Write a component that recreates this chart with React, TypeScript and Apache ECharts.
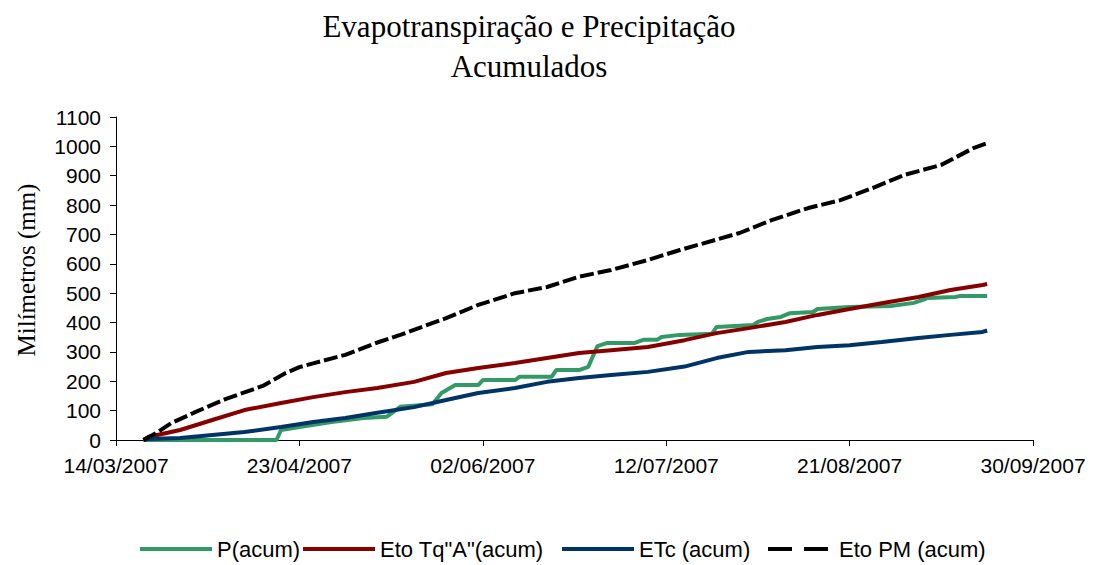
import React, { useEffect, useRef } from "react";
import * as echarts from "echarts";

const titleText = "Evapotranspiração e Precipitação\nAcumulados";
const yAxisTitle = "Milímetros (mm)";
const xTickDates = ["14/03/2007", "23/04/2007", "02/06/2007", "12/07/2007", "21/08/2007", "30/09/2007"];
const yTicks = [0, 100, 200, 300, 400, 500, 600, 700, 800, 900, 1000, 1100];

const seriesNames = ["P(acum)", 'Eto Tq"A"(acum)', "ETc (acum)", "Eto PM (acum)"];

const pDates = ["20/03/2007", "18/04/2007", "19/04/2007", "23/04/2007", "30/04/2007", "07/05/2007", "12/05/2007", "15/05/2007", "22/05/2007", "24/05/2007", "27/05/2007", "01/06/2007", "02/06/2007", "09/06/2007", "10/06/2007", "17/06/2007", "18/06/2007", "23/06/2007", "25/06/2007", "27/06/2007", "29/06/2007", "05/07/2007", "07/07/2007", "10/07/2007", "11/07/2007", "15/07/2007", "22/07/2007", "23/07/2007", "31/07/2007", "01/08/2007", "03/08/2007", "06/08/2007", "08/08/2007", "13/08/2007", "14/08/2007", "21/08/2007", "30/08/2007", "04/09/2007", "06/09/2007", "07/09/2007", "13/09/2007", "14/09/2007", "20/09/2007"];
const pValues = [0, 0, 34, 44, 61, 75, 79, 113, 122, 160, 187, 187, 204, 204, 215, 215, 238, 238, 249, 320, 330, 330, 341, 341, 351, 358, 362, 385, 392, 402, 412, 419, 432, 436, 446, 453, 456, 467, 477, 484, 487, 490, 490];

const tqDates = ["20/03/2007", "21/03/2007", "28/03/2007", "04/04/2007", "11/04/2007", "19/04/2007", "26/04/2007", "03/05/2007", "10/05/2007", "18/05/2007", "25/05/2007", "01/06/2007", "09/06/2007", "16/06/2007", "23/06/2007", "30/06/2007", "08/07/2007", "16/07/2007", "23/07/2007", "30/07/2007", "07/08/2007", "14/08/2007", "21/08/2007", "28/08/2007", "05/09/2007", "12/09/2007", "19/09/2007", "20/09/2007"];
const tqValues = [0, 10, 34, 68, 102, 126, 146, 163, 177, 198, 228, 245, 262, 279, 296, 306, 317, 340, 364, 381, 402, 426, 446, 466, 487, 511, 528, 531];

const etcDates = ["20/03/2007", "21/03/2007", "28/03/2007", "04/04/2007", "11/04/2007", "19/04/2007", "26/04/2007", "03/05/2007", "10/05/2007", "18/05/2007", "25/05/2007", "01/06/2007", "09/06/2007", "16/06/2007", "23/06/2007", "30/06/2007", "08/07/2007", "16/07/2007", "23/07/2007", "30/07/2007", "07/08/2007", "14/08/2007", "21/08/2007", "28/08/2007", "05/09/2007", "12/09/2007", "19/09/2007", "20/09/2007"];
const etcValues = [0, 3, 7, 17, 27, 44, 61, 75, 93, 112, 136, 160, 177, 198, 211, 221, 232, 250, 279, 300, 306, 317, 323, 334, 347, 358, 368, 373];

const pmDates = ["20/03/2007", "23/03/2007", "26/03/2007", "31/03/2007", "07/04/2007", "15/04/2007", "20/04/2007", "23/04/2007", "26/04/2007", "03/05/2007", "10/05/2007", "15/05/2007", "25/05/2007", "01/06/2007", "09/06/2007", "16/06/2007", "23/06/2007", "30/06/2007", "08/07/2007", "15/07/2007", "28/07/2007", "04/08/2007", "12/08/2007", "19/08/2007", "26/08/2007", "02/09/2007", "10/09/2007", "17/09/2007", "20/09/2007"];
const pmValues = [0, 26, 57, 93, 140, 184, 228, 248, 261, 290, 332, 358, 415, 460, 500, 521, 556, 579, 613, 647, 705, 749, 790, 817, 858, 903, 937, 994, 1011];

const DAY = 86400000;
const BASE = Date.UTC(2007, 2, 14);

function toDay(s: string): number {
  const [d, m, y] = s.split("/").map(Number);
  return Math.round((Date.UTC(y, m - 1, d) - BASE) / DAY);
}
function fmtDay(v: number): string {
  const dt = new Date(BASE + v * DAY);
  const dd = String(dt.getUTCDate()).padStart(2, "0");
  const mm = String(dt.getUTCMonth() + 1).padStart(2, "0");
  return `${dd}/${mm}/${dt.getUTCFullYear()}`;
}
function pairs(dates: string[], vals: number[]) {
  return dates.map((d, i) => [toDay(d), vals[i]]);
}

const solidIcon = "path://M0 0H72V4H0Z";
const dashIcon = "path://M0 0H24V4H0ZM36 0H60V4H36Z";
const legendLefts = [140, 303, 562, 768];

export default function App() {
  const ref = useRef<HTMLDivElement>(null);
  useEffect(() => {
    if (!ref.current) return;
    const chart = echarts.init(ref.current, undefined, { renderer: "svg" });
    const xMin = toDay(xTickDates[0]);
    const xMax = toDay(xTickDates[xTickDates.length - 1]);
    const xInterval = toDay(xTickDates[1]) - xMin;
    const sans = "Liberation Sans";
    const axisCommon = {
      axisLine: { show: true, lineStyle: { color: "#000", width: 1 } },
      axisTick: { show: true, length: 6, lineStyle: { color: "#000" } },
      splitLine: { show: false },
    };
    const lineSeries = (name: string, data: number[][], color: string, type: any = "solid") => ({
      name,
      type: "line",
      data,
      symbol: "none",
      showSymbol: false,
      lineStyle: { color, width: 4, type },
      itemStyle: { color },
      z: 2,
    });
    chart.setOption({
      animation: false,
      backgroundColor: "#fff",
      grid: { left: 116, top: 117, right: 61, bottom: 125, containLabel: false },
      graphic: [
        {
          type: "text",
          x: 529,
          y: 46,
          style: {
            text: titleText,
            fontFamily: "Liberation Serif",
            fontSize: 31,
            lineHeight: 40,
            fill: "#000",
            align: "center",
            verticalAlign: "middle",
          },
        },
        {
          type: "text",
          x: 26,
          y: 270,
          rotation: Math.PI / 2,
          style: {
            text: yAxisTitle,
            fontFamily: "Liberation Serif",
            fontSize: 25,
            fill: "#000",
            align: "center",
            verticalAlign: "middle",
          },
        },
      ],
      xAxis: {
        type: "value",
        min: xMin,
        max: xMax,
        interval: xInterval,
        ...axisCommon,
        axisLabel: {
          formatter: (v: number) => fmtDay(v),
          fontFamily: sans,
          fontSize: 21,
          color: "#000",
          margin: 15,
          showMaxLabel: true,
          showMinLabel: true,
        },
      },
      yAxis: {
        type: "value",
        min: yTicks[0],
        max: yTicks[yTicks.length - 1],
        interval: yTicks[1] - yTicks[0],
        ...axisCommon,
        axisLabel: {
          formatter: (v: number) => String(v),
          fontFamily: sans,
          fontSize: 21,
          color: "#000",
          margin: 15,
        },
      },
      legend: seriesNames.map((n, i) => ({
        data: [{ name: n, icon: i === 3 ? dashIcon : solidIcon }],
        left: legendLefts[i],
        top: 538,
        itemWidth: 72,
        itemHeight: 4,
        padding: 0,
        selectedMode: false,
        textStyle: { fontFamily: sans, fontSize: 22, color: "#000" },
      })),
      series: [
        lineSeries(seriesNames[0], pairs(pDates, pValues), "#339966"),
        lineSeries(seriesNames[1], pairs(tqDates, tqValues), "#870000"),
        lineSeries(seriesNames[2], pairs(etcDates, etcValues), "#003366"),
        lineSeries(seriesNames[3], pairs(pmDates, pmValues), "#000000", [14, 4]),
      ],
    });
    return () => chart.dispose();
  }, []);
  return (
    <div
      ref={ref}
      style={{ position: "absolute", left: 0, top: 0, width: 1094, height: 565 }}
    />
  );
}
